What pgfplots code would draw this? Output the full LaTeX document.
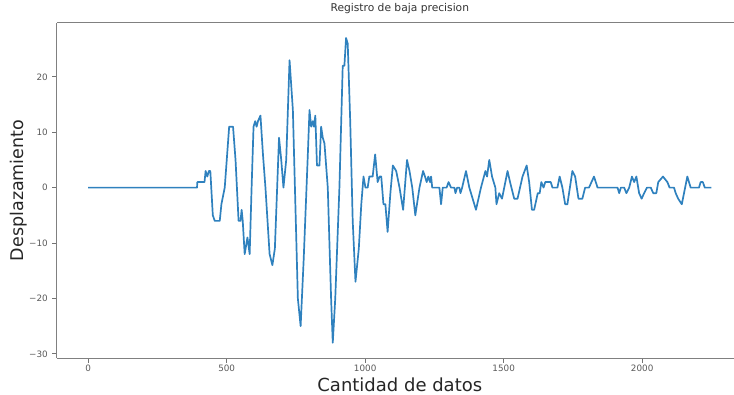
\documentclass[border=0pt]{standalone}
\usepackage{fontspec}
\setmainfont{DejaVu Sans}
\usepackage{pgfplots}
\pgfplotsset{compat=1.18}
\definecolor{mplblue}{HTML}{2F81BE}
\begin{document}
\begin{tikzpicture}
\path[use as bounding box] (-57pt,-36pt) rectangle (677pt,358pt);
\begin{axis}[
  at={(0pt,0pt)}, anchor=south west,
  scale only axis, width=685.6pt, height=335.2pt,
  xmin=-112.5, xmax=2362.5, ymin=-30.75, ymax=29.75,
  axis lines*=left,
  xtick={0,500,1000,1500,2000},
  xticklabels={0,500,1000,1500,2000},
  ytick={-30,-20,-10,0,10,20},
  yticklabels={−30,−20,−10,0,10,20},
  /pgf/number format/assume math mode=true,
  tick align=outside, xtick pos=bottom, ytick pos=left,
  major tick length=4.5pt,
  tick style={black!55, line width=0.9pt},
  axis line style={black!50, line width=1pt},
  ticklabel style={font=\fontsize{8.8}{10}\selectfont, text=black!65},
  xticklabel style={anchor=north, inner sep=0pt, yshift=-2.5pt},
  yticklabel style={anchor=east, inner sep=0pt, xshift=-4.5pt},
  title={Registro de baja precision},
  title style={at={(axis description cs:0.5,1)}, anchor=base, yshift=5pt, font=\fontsize{10.7}{12}\selectfont, text=black!80},
  xlabel={Cantidad de datos},
  xlabel style={at={(axis description cs:0.5,0)}, anchor=base, yshift=-33pt, font=\fontsize{18}{20}\selectfont, text=black!85},
  ylabel={Desplazamiento},
  ylabel style={at={(axis description cs:-0.0554,0.5)}, anchor=center, font=\fontsize{17.5}{20}\selectfont, text=black!85},
  clip=false,
]
\draw[black!50, line width=1pt] (axis description cs:0,1) -- (axis description cs:1,1);
\addplot[mplblue, line width=1.7pt, line join=round] coordinates {
(0,0) (393,0) (394,1) (420,1) (424,3) (430,2) (436,3) (441,3) (450,-5) (457,-6) (475,-6) (481,-3) (489,-1) (493,0) (509,11) (523,11) (532,5) (543,-6) (550,-6) (554,-4) (558,-6) (565,-12) (575,-9) (583,-12) (590,0) (597,11) (603,12) (608,11) (613,12) (622,13) (631,6) (640,0) (655,-12) (665,-14) (674,-11) (689,9) (697,5) (705,0) (715,5) (727,23) (739,14) (757,-20) (767,-25) (778,-13) (793,6) (799,14) (805,11) (811,12) (815,11) (820,13) (826,4) (835,4) (841,11) (847,9) (853,8) (865,0) (877,-20) (883,-28) (892,-20) (907,0) (919,22) (925,22) (931,27) (937,26) (946,12) (955,-6) (965,-17) (977,-11) (986,-3) (994,2) (1001,0) (1009,0) (1015,2) (1027,2) (1036,6) (1045,1) (1052,2) (1058,2) (1066,-3) (1073,-3) (1081,-8) (1091,-1) (1100,4) (1112,3) (1124,0) (1137,-4) (1151,5) (1160,3) (1170,0) (1181,-5) (1196,0) (1209,3) (1216,2) (1222,1) (1228,2) (1234,1) (1238,2) (1242,0) (1268,0) (1274,-3) (1280,0) (1294,0) (1301,1) (1310,0) (1322,0) (1326,-1) (1332,0) (1340,0) (1344,-1) (1350,0) (1364,3) (1376,0) (1400,-4) (1418,0) (1434,3) (1440,2) (1448,5) (1458,2) (1470,0) (1474,-3) (1484,-1) (1494,-2) (1514,3) (1523,1) (1538,-2) (1550,-2) (1568,2) (1583,4) (1592,1) (1602,-4) (1610,-4) (1623,-1) (1630,-1) (1636,1) (1644,0) (1650,1) (1670,1) (1676,0) (1694,0) (1702,2) (1712,0) (1722,-3) (1730,-3) (1748,3) (1758,2) (1770,-2) (1784,-2) (1794,0) (1808,0) (1826,2) (1839,0) (1911,0) (1917,-1) (1923,0) (1935,0) (1943,-1) (1953,0) (1963,2) (1971,1) (1979,2) (1989,-1) (1998,-2) (2007,-1) (2017,0) (2031,0) (2040,-1) (2051,-1) (2058,1) (2075,2) (2091,1) (2099,0) (2115,0) (2121,-1) (2130,-2) (2143,-3) (2163,2) (2175,0) (2205,0) (2211,1) (2219,1) (2226,0) (2250,0)
};
\end{axis}
\end{tikzpicture}
\end{document}
